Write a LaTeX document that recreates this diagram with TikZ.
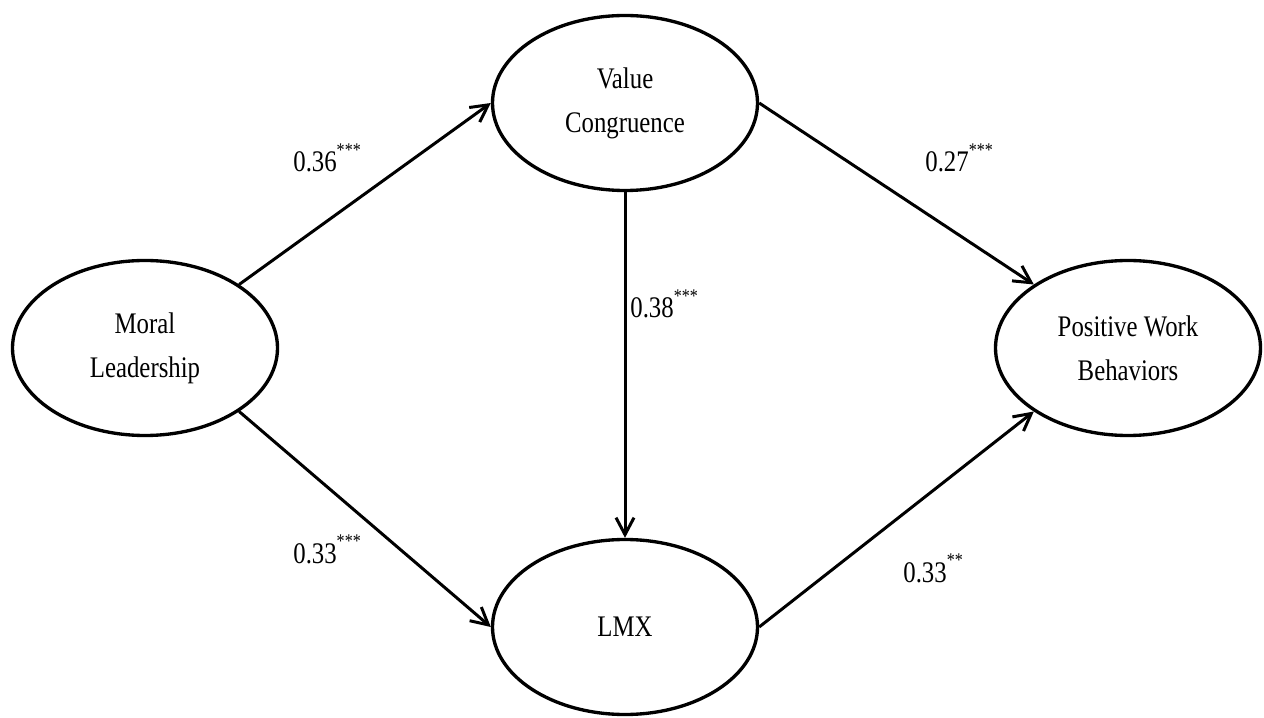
\documentclass[tikz,border=0pt]{standalone}
\usepackage{fontspec}
\setmainfont{Liberation Serif}[FakeStretch=0.83]
\usetikzlibrary{shapes.geometric,arrows.meta}
\newcommand\sig[1]{\raisebox{1.1ex}{\fontsize{11}{11}\selectfont #1}}

\begin{document}
\begin{tikzpicture}[
  latent/.style={ellipse,draw,line width=1.9pt,minimum width=5.3cm,minimum height=3.5cm,
    inner sep=0pt,align=center,font=\fontsize{17}{25}\selectfont},
  path/.style={line width=1.7pt,-{Straight Barb[length=3.4mm,width=3.6mm]}},
  coef/.style={anchor=base west,inner sep=0pt,font=\fontsize{17}{20}\selectfont}]
\useasboundingbox (0,0) rectangle (25.28,14.34);
\def\xl{2.90} \def\xm{12.50} \def\xr{22.56}
\def\ym{7.38}

\node[latent] (ml)  at (\xl,\ym)    {Moral\\Leadership};
\node[latent] (vc)  at (\xm,12.28)  {Value\\Congruence};
\node[latent] (lmx) at (\xm,1.80)   {LMX};
\node[latent] (pwb) at (\xr,\ym)    {Positive Work\\Behaviors};

\foreach \a/\b in {ml.34/vc.west, ml.-34/lmx.west, vc.south/lmx.north,
                   vc.east/pwb.146, lmx.east/pwb.214}
\draw[path] (\a) -- (\b);

\node[coef] (c1) at (5.86,10.90)  {0.36\sig{***}};
\node[coef] (c2) at (5.86,3.08)   {0.33\sig{***}};
\node[coef] (c3) at (12.60,7.98)  {0.38\sig{***}};
\node[coef] (c4) at (18.50,10.90) {0.27\sig{***}};
\node[coef] (c5) at (18.06,2.70)  {0.33\sig{**}};
\end{tikzpicture}
\end{document}
